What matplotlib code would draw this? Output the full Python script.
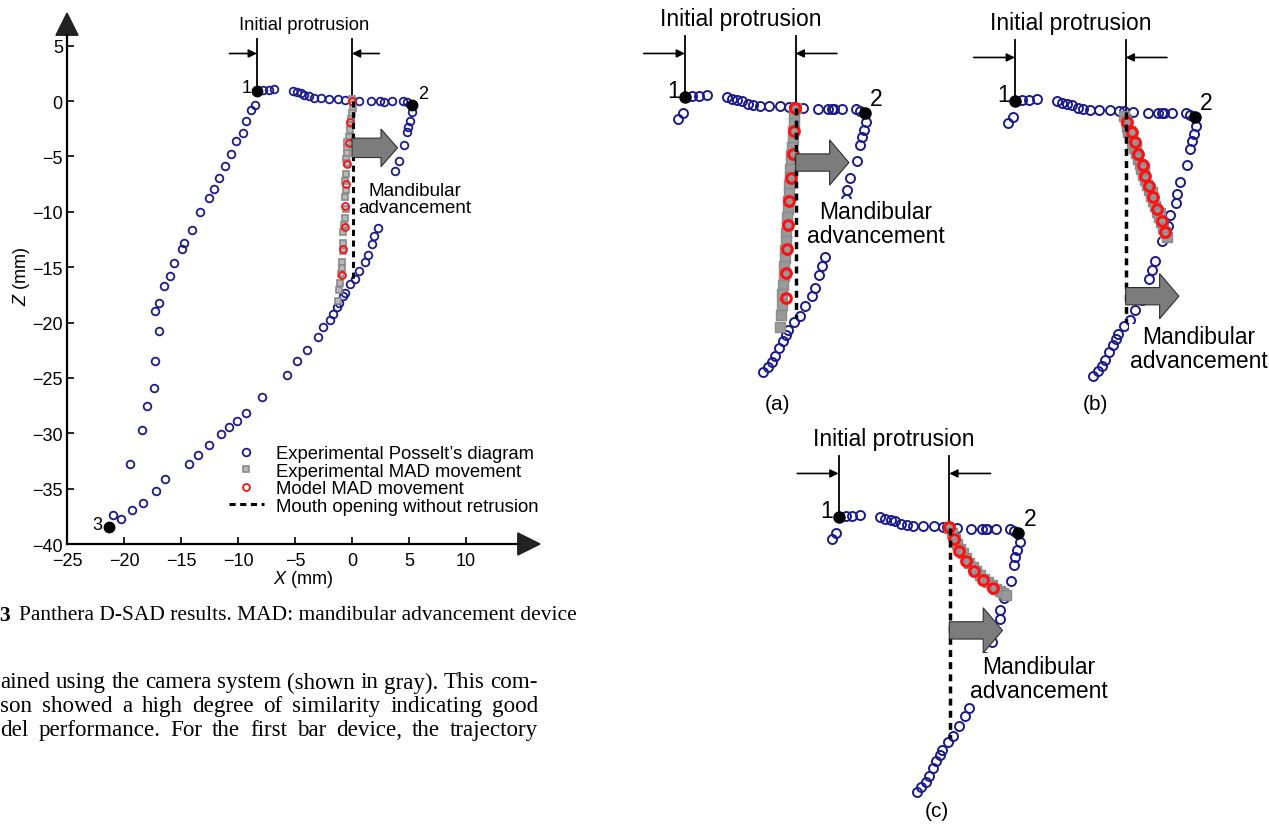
import matplotlib
matplotlib.use('Agg')
import matplotlib.pyplot as plt
from matplotlib.patches import FancyArrow, Polygon
from matplotlib.lines import Line2D

plt.rcParams['font.family'] = ['Liberation Sans', 'DejaVu Sans']
plt.rcParams['mathtext.fontset'] = 'custom'
plt.rcParams['mathtext.rm'] = 'Liberation Sans'
plt.rcParams['mathtext.it'] = 'Liberation Sans:italic'

# ---- main plot data (mm) ----
posselt_x = [-7.8, -7.3, -6.8, -5.2, -4.8, -4.5, -4.2, -3.75, -3.35, -2.7, -2.0, -1.25, -0.6, 0.6, 1.7, 2.5, 2.8,
             3.5, 4.5, 4.8,
             5.3, 5.1, 4.9, 4.8, 4.6, 4.1, 3.8,
             2.25, 1.97, 1.8, 1.4, 1.15, 0.6, 0.25, -0.15, -0.6, -0.8, -1.1, -1.35, -1.65, -1.9, -2.5, -3.0, -3.97,
             -4.8, -5.7, -7.9, -9.3, -10.1, -10.8, -11.5, -12.5, -13.5, -14.3, -16.4, -17.2, -18.3, -19.3, -20.3, -21.0,
             -19.5, -18.4, -18.0, -17.4, -17.3, -16.9, -17.3, -16.9, -16.5, -16.0, -15.6, -14.9, -14.7, -14.0, -13.3,
             -12.5, -12.1, -11.65, -11.1, -10.6, -10.2, -9.6, -9.3, -8.9, -8.5]
posselt_z = [1.0, 1.0, 1.05, 0.9, 0.8, 0.7, 0.55, 0.45, 0.3, 0.3, 0.2, 0.15, 0.1, 0.05, 0.0, 0.0, -0.05,
             0.0, 0.0, -0.1,
             -1.0, -1.8, -2.3, -2.75, -4.0, -5.4, -6.3,
             -11.45, -12.2, -12.9, -13.9, -14.5, -15.3, -16.1, -16.55, -17.3, -17.6, -18.2, -18.6, -19.2, -19.8, -20.4,
             -21.3, -22.5, -23.45, -24.7, -26.7, -28.2, -28.9, -29.4, -30.1, -31.1, -32.0, -32.8, -34.1, -35.2, -36.3,
             -36.9, -37.7, -37.4,
             -32.8, -29.7, -27.55, -25.9, -23.45, -20.75, -19.0, -18.2, -16.7, -15.75, -14.65, -13.35, -12.8, -11.65,
             -10.0, -8.76, -7.9, -6.9, -5.9, -4.8, -3.6, -2.9, -1.8, -0.8, -0.35]
key_x = [-8.34, 5.3, -21.3]
key_z = [0.9, -0.35, -38.45]
key_labels = ['1', '2', '3']

mad_exp_x = [0.0, 0.1, 0.0, -0.06, -0.15, -0.2, -0.3, -0.4, -0.47, -0.47, -0.5, -0.47, -0.55, -0.62, -0.56, -0.62,
             -0.53, -0.6, -0.72, -0.78, -0.78, -0.8, -0.84, -0.9, -0.94, -1.03, -1.1, -1.2]
mad_exp_z = [0.2, -0.6, -1.1, -1.6, -2.2, -2.65, -3.2, -3.7, -4.2, -4.7, -5.2, -5.6, -6.6, -7.2, -8.0, -8.7,
             -9.7, -10.6, -11.2, -11.8, -12.8, -13.5, -14.55, -15.1, -15.6, -16.45, -17.1, -18.05]
mad_model_x = [0.0, -0.15, -0.3, -0.4, -0.5, -0.6, -0.65, -0.8, -0.9]
mad_model_z = [0.0, -1.9, -3.8, -5.65, -7.5, -9.45, -11.4, -13.4, -15.7]
open_x = [0.1, 0.1]
open_z = [0.0, -16.45]

# ---- panels (a)-(c) data (mm) ----
sub_x = [-8.82, -8.5,
         -7.8, -7.3, -6.7, -5.19, -4.81, -4.42, -4.07, -3.6, -3.2, -2.7, -2.0, -1.15, -0.5, -0.15, 0.55, 1.65, 2.45,
         2.75, 2.85, 3.5, 4.55, 4.85,
         5.32, 5.1, 4.97, 4.85, 4.62, 4.1, 3.83, 3.78, 3.33, 3.2, 2.7, 2.2, 1.95, 1.77, 1.45, 1.2, 0.7, 0.3, -0.1,
         -0.58, -0.73, -0.98, -1.23, -1.55, -1.75, -2.1, -2.45]
sub_z = [-0.85, -0.35,
         0.87, 0.93, 0.98, 0.8, 0.7, 0.58, 0.5, 0.33, 0.22, 0.17, 0.16, 0.15, 0.05, 0.08, 0.0, -0.05, -0.1,
         -0.1, -0.1, -0.05, -0.1, -0.2,
         -1.03, -1.68, -2.2, -2.75, -4.0, -5.27, -6.15, -6.84, -7.74, -8.55, -9.68, -11.18, -11.86, -12.56, -13.5,
         -14.1, -14.92, -15.62, -16.1, -16.7, -17.05, -17.55, -18.05, -18.65, -19.1, -19.5, -19.85]
sub_key_x = [-8.33, 5.2]
sub_key_z = [0.82, -0.4]

a_exp_x = [0.0, -0.1, -0.12, -0.2, -0.22, -0.3, -0.32, -0.38, -0.42, -0.45, -0.5, -0.52, -0.55, -0.6, -0.62, -0.65,
           -0.7, -0.72, -0.78, -0.8, -0.85, -0.9, -0.95, -1.0, -1.05, -1.1, -1.2]
a_exp_z = [0.0, -0.5, -1.1, -1.7, -2.3, -2.9, -3.5, -4.0, -4.6, -5.2, -5.8, -6.4, -7.0, -7.6, -8.2, -8.8,
           -9.4, -10.0, -10.7, -11.3, -11.9, -12.6, -13.3, -14.0, -14.8, -15.6, -16.5]
a_model_x = [-0.05, -0.13, -0.23, -0.38, -0.48, -0.56, -0.63, -0.73, -0.73]
a_model_z = [0.0, -1.75, -3.46, -5.24, -7.0, -8.77, -10.6, -12.4, -14.3]

b_exp_x = [-0.1, 0.0, 0.1, 0.2, 0.35, 0.5, 0.6, 0.75, 0.9, 1.05, 1.15, 1.3, 1.45, 1.6, 1.75, 1.9, 2.05, 2.2, 2.35,
           2.5, 2.65, 2.8, 2.95, 3.1, 0.3, 0.8, 1.4, 2.0, 2.6]
b_exp_z = [-0.3, -0.7, -1.1, -1.5, -1.9, -2.3, -2.7, -3.1, -3.5, -3.9, -4.3, -4.7, -5.1, -5.5, -5.9, -6.3, -6.7,
           -7.1, -7.5, -7.9, -8.3, -8.7, -9.0, -9.4, -1.4, -2.6, -4.3, -6.0, -7.6]
b_model_x = [0.12, 0.45, 0.7, 0.95, 1.28, 1.45, 1.78, 2.08, 2.33, 2.7, 2.95]
b_model_z = [-0.73, -1.48, -2.28, -3.16, -3.99, -4.79, -5.59, -6.42, -7.29, -8.17, -9.05]

c_exp_x = [0.0, 0.2, 0.4, 0.6, 0.8, 1.0, 1.25, 1.5, 1.75, 2.0, 2.3, 2.6, 2.9, 3.2, 3.5, 3.8, 4.05, 4.3]
c_exp_z = [0.0, -0.4, -0.8, -1.2, -1.55, -1.9, -2.25, -2.6, -2.9, -3.2, -3.5, -3.8, -4.05, -4.3, -4.55, -4.75,
           -4.9, -5.05]
c_model_x = [0.0, 0.35, 0.75, 1.25, 1.85, 2.56, 3.3]
c_model_z = [0.05, -0.83, -1.7, -2.46, -3.2, -3.88, -4.53]
sub_open_x = [0.05, 0.05]
sub_open_z = [0.0, -15.8]

legend_labels = ["Experimental Posselt\u2019s diagram", "Experimental MAD movement",
                 "Model MAD movement", "Mouth opening without retrusion"]

caption_num = "3"
caption = "Panthera D-SAD results. MAD: mandibular advancement device"
body_lines = ["ained using the camera system (shown in gray). This com-",
              "son showed a high degree of similarity indicating good",
              "del performance. For the first bar device, the trajectory"]

BLUE = '#1b1b8e'
RED = '#ff1010'
GRAY = '#8a8a8a'

W, H = 1269, 828
fig = plt.figure(figsize=(W / 100, H / 100), dpi=100)


def px_axes(x0, y0, x1, y1):
    return fig.add_axes([x0 / W, 1 - y1 / H, (x1 - x0) / W, (y1 - y0) / H])


def protrusion(ax, x1, z1, top, arr_z, text_z, arr_len, fs):
    ax.plot([x1, x1], [z1, top], color='k', lw=1.3, clip_on=False)
    ax.plot([0, 0], [0, top], color='k', lw=1.3, clip_on=False)
    ax.annotate('', xy=(x1, arr_z), xytext=(x1 - arr_len, arr_z),
                arrowprops=dict(arrowstyle='-|>', color='k', lw=1.2, mutation_scale=12, shrinkA=0, shrinkB=0))
    ax.annotate('', xy=(0, arr_z), xytext=(arr_len, arr_z),
                arrowprops=dict(arrowstyle='-|>', color='k', lw=1.2, mutation_scale=12, shrinkA=0, shrinkB=0))
    ax.text(x1 / 2, text_z, 'Initial protrusion', fontsize=fs, ha='center', va='center')


def block_arrow(ax, zc, width, head_w):
    ax.add_patch(FancyArrow(0, zc, 4.0, 0, width=width, head_width=head_w, head_length=1.45,
                            length_includes_head=True, fc='#7c7c7c', ec='#303030', lw=0.8, zorder=6))


# ================= main plot =================
ax = px_axes(67, 8, 540, 545)
ax.set_xlim(-25, 16.5)
ax.set_ylim(-40, 8.5)
ax.spines[['top', 'right']].set_visible(False)
ax.spines['left'].set_bounds(-40, 6.0)
ax.spines['bottom'].set_bounds(-25, 14.6)
for s in ['left', 'bottom']:
    ax.spines[s].set_linewidth(1.6)
ax.add_patch(Polygon([(14.55, -41.0), (16.5, -40), (14.55, -39.0)], closed=True, color='#222222', clip_on=False))
ax.add_patch(Polygon([(-25.97, 5.95), (-25, 7.95), (-24.03, 5.95)], closed=True, color='#222222', clip_on=False))
ax.set_xticks(range(-25, 11, 5))
ax.set_yticks(range(-40, 6, 5))
ax.set_xticklabels([f'\u2212{-v}' if v < 0 else str(v) for v in range(-25, 11, 5)])
ax.set_yticklabels([f'\u2212{-v}' if v < 0 else str(v) for v in range(-40, 6, 5)])
ax.tick_params(direction='in', length=5, width=1.2, labelsize=13)
ax.tick_params(axis='x', pad=6)
ax.tick_params(axis='y', pad=3)
ax.set_xlabel('$\\it{X}$ (mm)', fontsize=13, labelpad=-1)
ax.set_ylabel('$\\it{Z}$ (mm)', fontsize=13, labelpad=0)

ax.plot(posselt_x, posselt_z, 'o', ls='none', mfc='none', mec=BLUE, ms=5.5, mew=1.3, zorder=3)
ax.plot(mad_exp_x, mad_exp_z, 's', ls='none', mfc='#b8b8b8', mec=GRAY, ms=4.5, mew=1.2, zorder=4)
ax.plot(mad_model_x, mad_model_z, 'o', ls='none', mfc='none', mec=RED, ms=5, mew=1.3, zorder=5)
ax.plot(open_x, open_z, '--', color='k', lw=2.2, dashes=(2, 1.5), zorder=5)
ax.plot(key_x, key_z, 'o', ls='none', color='k', ms=7.5, zorder=6)
ax.text(key_x[0] - 0.5, key_z[0] + 0.3, key_labels[0], fontsize=13, ha='right', va='center')
ax.text(key_x[1] + 0.5, key_z[1] + 1.0, key_labels[1], fontsize=13, ha='left', va='center')
ax.text(key_x[2] - 0.6, key_z[2] + 0.2, key_labels[2], fontsize=13, ha='right', va='center')

protrusion(ax, key_x[0], key_z[0], 5.6, 4.3, 6.9, 2.4, 13.3)
block_arrow(ax, -4.22, 1.75, 3.4)
ax.text(5.5, -8.8, 'Mandibular\nadvancement', fontsize=13.6, ha='center', va='center', linespacing=1.0,
        zorder=7, bbox=dict(fc='white', ec='none', pad=1))

handles = [Line2D([], [], ls='none', marker='o', mfc='none', mec=BLUE, ms=5.5, mew=1.3),
           Line2D([], [], ls='none', marker='s', mfc='#b8b8b8', mec=GRAY, ms=4.5, mew=1.2),
           Line2D([], [], ls='none', marker='o', mfc='none', mec=RED, ms=5, mew=1.3),
           Line2D([], [], ls='--', color='k', lw=2.2, dashes=(2, 1.5))]
ax.legend(handles, legend_labels, loc='upper left', bbox_to_anchor=(-10.8, -31.1),
          bbox_transform=ax.transData, frameon=False, fontsize=13.3, handlelength=1.9,
          handletextpad=0.65, labelspacing=0.02, borderpad=0, borderaxespad=0)


# ================= panels (a)-(c) =================
SC = 13.3
SFS = 16.5


def panel(ox, oy, exp_x, exp_z, mod_x, mod_z, arrow_z, tx, tz):
    a = px_axes(ox - 12 * SC, oy - 8 * SC, ox + 11.2 * SC, oy + 21 * SC)
    a.set_xlim(-12, 11.2)
    a.set_ylim(-21, 8)
    a.axis('off')
    a.plot(sub_x, sub_z, 'o', ls='none', mfc='none', mec=BLUE, ms=6.5, mew=1.4, zorder=3)
    a.plot(exp_x, exp_z, 's', ls='none', mfc='#9a9a9a', mec='#8a8a8a', ms=6.5, mew=1.0, zorder=4)
    a.plot(mod_x, mod_z, 'o', ls='none', mfc='none', mec=RED, ms=7, mew=2.2, zorder=5)
    a.plot(sub_open_x, sub_open_z, color='k', lw=2.5, dashes=(2, 1.5), zorder=5)
    a.plot(sub_key_x, sub_key_z, 'o', ls='none', color='k', ms=8, zorder=6)
    a.text(sub_key_x[0] - 0.4, sub_key_z[0] + 0.5, '1', fontsize=SFS, ha='right', va='center')
    a.text(sub_key_x[1] + 0.4, sub_key_z[1] + 1.1, '2', fontsize=SFS, ha='left', va='center')
    protrusion(a, sub_key_x[0], sub_key_z[0], 5.4, 4.1, 6.7, 3.1, SFS)
    block_arrow(a, arrow_z, 1.3, 3.4)
    a.text(tx, tz, 'Mandibular\nadvancement', fontsize=SFS, ha='center', va='center', linespacing=1.05,
           zorder=7, bbox=dict(fc='white', ec='none', pad=1))
    return a


panel(795.7, 109, a_exp_x, a_exp_z, a_model_x, a_model_z, -4.1, 6.0, -8.7)
panel(1125.7, 113, b_exp_x, b_exp_z, b_model_x, b_model_z, -13.85, 5.5, -17.8)
panel(949.3, 529, c_exp_x, c_exp_z, c_model_x, c_model_z, -7.7, 6.7, -11.3)

for lbl, px, py in [('(a)', 777, 405), ('(b)', 1095, 405), ('(c)', 937, 812)]:
    fig.text(px / W, 1 - py / H, lbl, fontsize=15, ha='center', va='center')

# ================= caption and body text =================
SERIF = ['Liberation Serif', 'DejaVu Serif']
r = fig.canvas.get_renderer()


def fit_size(text, width):
    probe = fig.text(0, 0, text, fontsize=10, family=SERIF)
    w = probe.get_window_extent(r).width
    probe.remove()
    return 10 * width / w


bfs = fit_size(body_lines[0], 538)
cfs = 0.5 * (bfs + fit_size(caption, 518))


def justify(line, x0, x1, y):
    words = line.split()
    ts = [fig.text(0, 1 - y / H, w, fontsize=bfs, family=SERIF, va='center') for w in words]
    ws = [t.get_window_extent(r).width for t in ts]
    gap = (x1 - x0 - sum(ws)) / (len(words) - 1)
    x = x0
    for t, w in zip(ts, ws):
        t.set_x(x / W)
        x += w + gap


fig.text(-1 / W, 1 - 616 / H, caption_num, fontsize=cfs, family=SERIF, weight='bold', va='center')
fig.text(19 / W, 1 - 616 / H, caption, fontsize=cfs, family=SERIF, va='center')
for line, y in zip(body_lines, [683, 707, 731]):
    justify(line, 0, 538, y)

fig.savefig('out.png', dpi=100)
